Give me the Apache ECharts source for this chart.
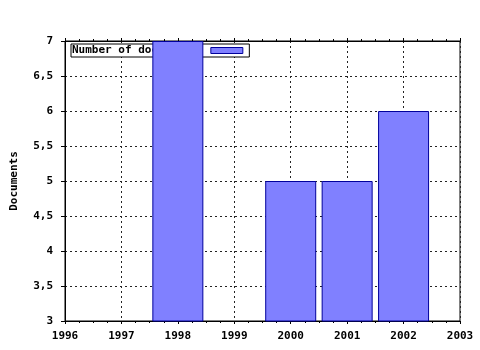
<!DOCTYPE html>
<html><head><meta charset="utf-8">
<script src="https://cdn.jsdelivr.net/npm/echarts@6/dist/echarts.min.js"></script>
<style>html,body{margin:0;padding:0;background:#fff}#c{width:480px;height:350px}</style>
</head><body><div id="c"></div>
<script>
const years = [1998, 2000, 2001, 2002];
const documents = [7, 5, 5, 6];
const seriesName = 'Number of documents';
const yName = 'Documents';
const xMin = 1996, xMax = 2003, yMin = 3, yMax = 7;

const font = 'DejaVu Sans Mono';
const chart = echarts.init(document.getElementById('c'), null, {renderer: 'canvas'});
const tickLine = {color: '#000', width: 1};
chart.setOption({
  animation: false,
  backgroundColor: '#fff',
  grid: {left: 65, right: 20, top: 41, bottom: 29, containLabel: false, outerBoundsMode: 'none',
    show: true, borderColor: '#000', borderWidth: 1, backgroundColor: 'transparent'},
  legend: {
    show: true, left: 71, top: 44, z: 1,
    data: [seriesName],
    icon: 'rect', itemWidth: 32, itemHeight: 6, align: 'right', itemGap: 0,
    padding: [0, 6, 0, 1],
    backgroundColor: '#fff', borderColor: '#000', borderWidth: 1, borderRadius: 0,
    textStyle: {fontFamily: font, fontWeight: 'bold', fontSize: 11, color: '#000', lineHeight: 13, padding: [0, 8, 0, 0]},
    itemStyle: {borderColor: '#00009c', borderWidth: 1}
  },
  xAxis: [{
    type: 'value', min: xMin, max: xMax, interval: 1, position: 'bottom',
    axisLine: {show: true, lineStyle: tickLine},
    axisTick: {show: true, inside: false, length: 3, lineStyle: tickLine},
    minorTick: {show: true, splitNumber: 4, length: 2, lineStyle: tickLine},
    axisLabel: {fontFamily: font, fontWeight: 'bold', fontSize: 11, color: '#000', margin: 10, formatter: v => String(v)},
    splitLine: {show: true, lineStyle: {color: '#222', type: [2, 3], width: 1}}
  }, {
    type: 'value', min: xMin, max: xMax, interval: 1, position: 'top',
    axisLine: {show: true, lineStyle: tickLine},
    axisTick: {show: true, inside: false, length: 3, lineStyle: tickLine},
    minorTick: {show: true, splitNumber: 4, length: 2, lineStyle: tickLine},
    axisLabel: {show: false},
    splitLine: {show: false}
  }],
  yAxis: {
    type: 'value', min: yMin, max: yMax, interval: 0.5,
    name: yName, nameLocation: 'middle', nameGap: 45, nameRotate: 90,
    nameTextStyle: {fontFamily: font, fontWeight: 'bold', fontSize: 11, color: '#000'},
    axisLine: {show: true, lineStyle: tickLine},
    axisTick: {show: true, inside: false, length: 4, lineStyle: tickLine},
    axisLabel: {fontFamily: font, fontWeight: 'bold', fontSize: 11, color: '#000', margin: 12,
      formatter: v => String(v).replace('.', ',')},
    splitLine: {show: true, lineStyle: {color: '#222', type: [2, 3], width: 1}}
  },
  series: [{
    name: seriesName, type: 'bar', z: 10,
    barWidth: 51,
    data: years.map((y, i) => [y, documents[i]]),
    itemStyle: {color: '#8080ff', borderColor: '#00009c', borderWidth: 1}
  }]
});
</script></body></html>
